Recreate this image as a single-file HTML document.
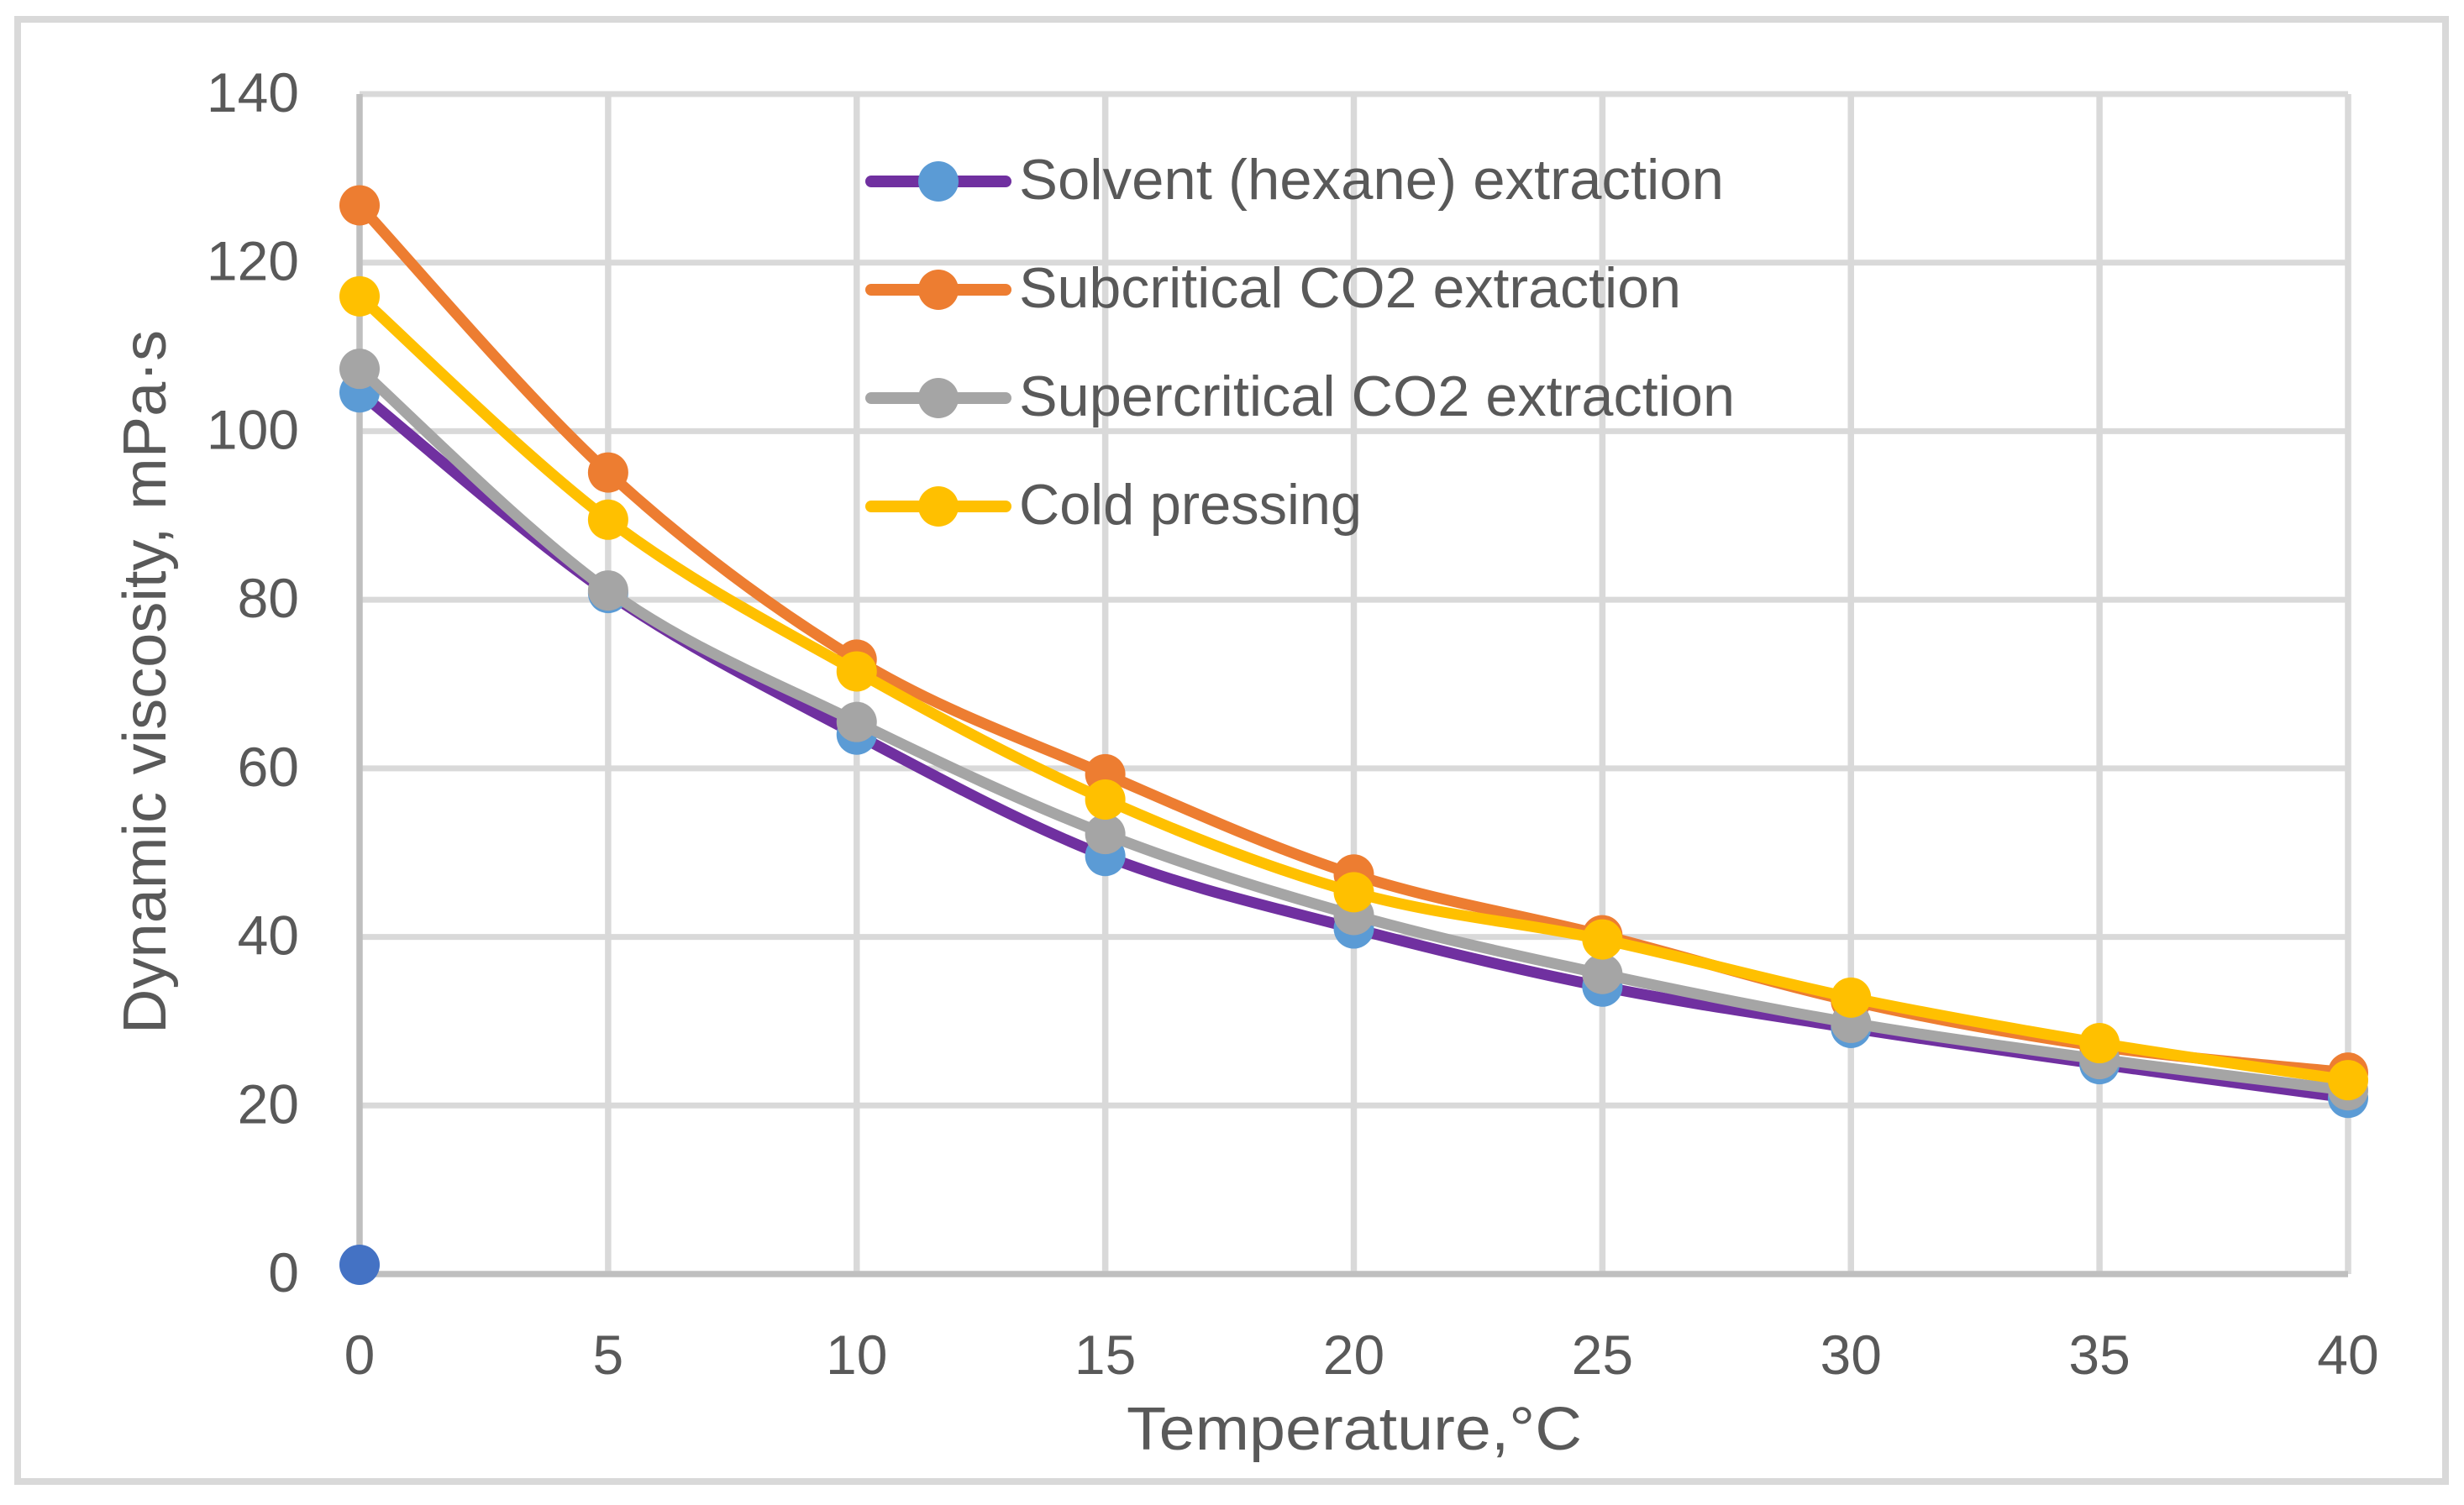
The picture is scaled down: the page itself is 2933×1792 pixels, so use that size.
<!DOCTYPE html>
<html lang="en">
<head>
<meta charset="utf-8">
<title>Dynamic viscosity vs temperature</title>
<style>
html,body{margin:0;padding:0;background:#fff;width:2933px;height:1792px;overflow:hidden}
svg{display:block}
text{font-family:"Liberation Sans",sans-serif;fill:#595959}
</style>
</head>
<body>
<svg id="chart" xmlns="http://www.w3.org/2000/svg" width="2933" height="1792" viewBox="0 0 2933 1792">
  <rect x="21" y="23" width="2890" height="1741" fill="#fff" stroke="#D9D9D9" stroke-width="8"/>
  <g id="grid"></g>
  <g id="axes"></g>
  <g id="ticks"></g>
  <text x="1612" y="1726" font-size="72" text-anchor="middle" textLength="542" lengthAdjust="spacingAndGlyphs">Temperature,°C</text>
  <text x="0" y="0" font-size="72" text-anchor="middle" textLength="838" lengthAdjust="spacingAndGlyphs" transform="translate(197 812) rotate(-90)">Dynamic viscosity, mPa·s</text>
  <g id="series"></g>
  <g id="legend"></g>
</svg>
<script>
const temperatures = [0, 5, 10, 15, 20, 25, 30, 35, 40];
const xTickLabels = [0, 5, 10, 15, 20, 25, 30, 35, 40];
const yTickLabels = [0, 20, 40, 60, 80, 100, 120, 140];
const solventValues = [104.6, 80.8, 64.0, 49.6, 41.0, 34.1, 29.2, 24.9, 20.9];
const subcriticalValues = [126.8, 95.1, 72.9, 59.3, 47.4, 40.2, 32.4, 27.0, 23.9];
const supercriticalValues = [107.4, 81.1, 65.5, 52.2, 42.6, 35.6, 29.8, 25.5, 21.8];
const coldPressingValues = [116.0, 89.5, 71.5, 56.3, 45.3, 39.7, 32.8, 27.4, 23.0];
const strayPointX = [0];
const strayPointY = [1.1];
const seriesNames = ["Solvent (hexane) extraction", "Subcritical CO2 extraction", "Supercritical CO2 extraction", "Cold pressing"];

const NS = "http://www.w3.org/2000/svg";
const plot = {left: 428, right: 2795, top: 112, bottom: 1517};
const xMin = 0, xMax = 40, yMin = 0, yMax = 140;
function xScale(v) { return plot.left + (v - xMin) / (xMax - xMin) * (plot.right - plot.left); }
function yScale(v) { return plot.bottom - (v - yMin) / (yMax - yMin) * (plot.bottom - plot.top); }
function make(tag, parent, attrs) {
  const el = document.createElementNS(NS, tag);
  for (const k in attrs) el.setAttribute(k, attrs[k]);
  parent.appendChild(el);
  return el;
}
function smoothPath(pts) {
  let d = "M" + pts[0][0] + " " + pts[0][1];
  for (let i = 0; i < pts.length - 1; i++) {
    const p0 = pts[Math.max(0, i - 1)], p1 = pts[i], p2 = pts[i + 1], p3 = pts[Math.min(pts.length - 1, i + 2)];
    const c1x = p1[0] + (p2[0] - p0[0]) / 6, c1y = p1[1] + (p2[1] - p0[1]) / 6;
    const c2x = p2[0] - (p3[0] - p1[0]) / 6, c2y = p2[1] - (p3[1] - p1[1]) / 6;
    d += " C" + c1x + " " + c1y + " " + c2x + " " + c2y + " " + p2[0] + " " + p2[1];
  }
  return d;
}

const gridG = document.getElementById("grid");
const axesG = document.getElementById("axes");
const ticksG = document.getElementById("ticks");
const seriesG = document.getElementById("series");
const legendG = document.getElementById("legend");

yTickLabels.forEach(function (v) {
  if (v !== yMin) {
    const line = make("line", gridG, {x1: plot.left, x2: plot.right, y1: yScale(v), y2: yScale(v), stroke: "#D9D9D9", "stroke-width": 7});
    
    
  }
  const label = make("text", ticksG, {x: 356, y: yScale(v) + 21, "font-size": 66, "text-anchor": "end"});
  label.textContent = v;
  
  
});
xTickLabels.forEach(function (v) {
  if (v !== xMin) {
    const line = make("line", gridG, {x1: xScale(v), x2: xScale(v), y1: plot.top, y2: plot.bottom, stroke: "#D9D9D9", "stroke-width": 7.5});
    
    
  }
  const label = make("text", ticksG, {x: xScale(v), y: 1636, "font-size": 66, "text-anchor": "middle"});
  label.textContent = v;
  
  
});
const yAxisLine = make("line", axesG, {x1: plot.left, x2: plot.left, y1: plot.top, y2: plot.bottom, stroke: "#BFBFBF", "stroke-width": 7.5});


const xAxisLine = make("line", axesG, {x1: plot.left, x2: plot.right, y1: plot.bottom, y2: plot.bottom, stroke: "#BFBFBF", "stroke-width": 7.5});



const strayDot = make("circle", seriesG, {cx: xScale(strayPointX[0]), cy: yScale(strayPointY[0]), r: 24, fill: "#4472C4"});



const seriesValues = [solventValues, subcriticalValues, supercriticalValues, coldPressingValues];
const lineColors = ["#7030A0", "#ED7D31", "#A5A5A5", "#FFC000"];
const markerColors = ["#5B9BD5", "#ED7D31", "#A5A5A5", "#FFC000"];
const seriesKeys = ["solvent", "subcritical", "supercritical", "cold-pressing"];

seriesValues.forEach(function (vals, s) {
  const pts = vals.map(function (v, i) { return [xScale(temperatures[i]), yScale(v)]; });
  const path = make("path", seriesG, {d: smoothPath(pts), fill: "none", stroke: lineColors[s], "stroke-width": 13, "stroke-linecap": "round", "stroke-linejoin": "round"});
  
  
  pts.forEach(function (p) {
    const dot = make("circle", seriesG, {cx: p[0], cy: p[1], r: 24, fill: markerColors[s]});
    
    
  });
});

const legendLineY = [216, 345, 474, 603];
const legendTextWidth = [839, 788, 852, 408];
seriesNames.forEach(function (name, s) {
  const y = legendLineY[s];
  const swatch = make("line", legendG, {x1: 1037, x2: 1197, y1: y, y2: y, stroke: lineColors[s], "stroke-width": 14, "stroke-linecap": "round"});
  
  
  const marker = make("circle", legendG, {cx: 1117, cy: y, r: 24, fill: markerColors[s]});
  
  
  const label = make("text", legendG, {x: 1213, y: y + 21, "font-size": 68, textLength: legendTextWidth[s], lengthAdjust: "spacingAndGlyphs"});
  label.textContent = name;
  
  
});
</script>
</body>
</html>
